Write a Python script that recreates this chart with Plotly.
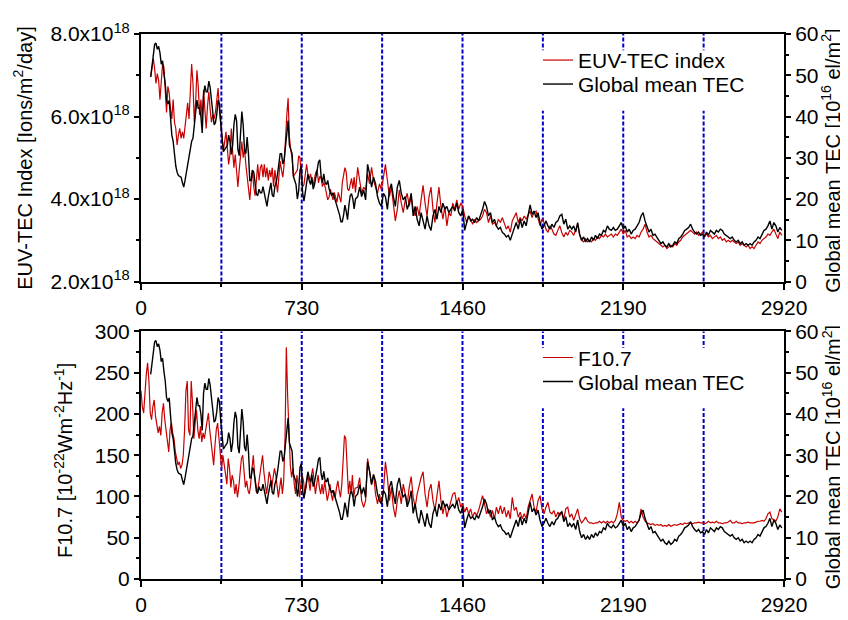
import plotly.graph_objects as go

# ---------------- data ----------------
# sampling days of the daily series (day number from start of record)
tec_days = (list(range(44, 980, 6)) + list(range(984, 1950, 9)) + list(range(1956, 2919, 9)))
f107_days = (list(range(0, 978, 6)) + list(range(984, 1950, 9)) + list(range(1956, 2919, 9)))

# Global mean TEC [1e16 el/m^2]
global_mean_tec = [
    49.6, 52, 55.5, 57.5, 57.8, 56.3, 57, 55.5, 52.7, 53.5,
    50.4, 48, 44, 43, 43.9, 40.2, 35.5, 34, 30.8, 28,
    26.5, 25.7, 25.5, 25.3, 24, 22.9, 24.5, 26.5, 28.4, 30,
    32.5, 34, 34.7, 37.8, 41.5, 44, 42, 42, 40, 36,
    45, 47.5, 46, 46, 48.6, 47, 44, 40, 38, 38.5,
    40.5, 44, 43, 38.5, 35, 31.5, 32, 32.5, 33, 35.5,
    34, 30.8, 33, 38, 40.5, 39, 32, 30.5, 37, 41.2,
    38, 32, 31, 35, 31, 24.5, 24.5, 27, 26.5, 23,
    21.2, 20.8, 22.4, 21.5, 21.5, 23, 21.5, 20, 18.2, 20.5,
    22.5, 23.9, 21, 20.5, 23, 24, 26, 28.4, 31, 31,
    28.5, 29.5, 32.5, 36.5, 39, 33, 32, 31, 25.5, 24.5,
    23.5, 20, 22, 27, 28, 21.5, 19.5, 21.6, 23.9, 26,
    24.5, 23.5, 25.3, 22.4, 23.5, 25, 27, 29, 29.5, 25.5,
    24, 26.1, 24, 23.5, 24.5, 22.5, 21.5, 20.8, 21.5, 20.5,
    19.2, 18, 17.2, 16.1, 14.5, 14.5, 16.1, 18.5, 17, 15,
    18.5, 20.8, 21.3, 20, 17.6, 20,
    # ---
    20.6, 22.9, 20.6, 22.2, 19.8, 28.4, 26.1, 22.9, 25.3, 23.7,
    20.6, 19, 18.2, 21.4, 20.6, 17.5, 22.2, 23.7, 20.6, 18.2,
    22.9, 24.5, 21.4, 19.8, 20.6, 17.5, 19, 21.4, 15.9, 18.2,
    15.1, 13.5, 16.7, 14.3, 12.7, 15.9, 13.5, 12.4, 15.9, 17.5,
    15.1, 18.2, 16.7, 19, 17.5, 18.2, 16.7, 17.5, 18.2, 17.1,
    19, 16.7, 15.9, 17.5, 12.4, 14.3, 15.9, 14.7, 15.1, 14.3,
    15.5, 14.7, 15.9, 17.5, 19.4, 18.2, 15.9, 16.7, 14.3, 15.1,
    13.5, 12.7, 13.1, 11.9, 11.5, 10.8, 11.2, 10, 11.5, 12.7,
    14.3, 12.7, 15.1, 13.1, 14.7, 13.5, 15.9, 18.6, 16.3, 17.1,
    15.5, 16.7, 14.3, 12.7, 13.5, 14.7, 13.5, 12.7, 13.9, 13.1,
    14.3, 14.7, 15.9, 16.3, 13.9, 15.1, 12.7, 13.5,
    # ---
    12.7, 13.5, 12, 14.3, 11.5, 10, 10.8, 9.6, 10.4, 9.6,
    10.8, 10, 11.2, 10.4, 11.5, 11.2, 12.4, 12, 13.5, 12.7,
    12.4, 13.1, 12.4, 12.7, 13.5, 14.3, 12.7, 13.5, 12, 12.7,
    11.5, 12.4, 12.7, 13.5, 14.3, 15.9, 16.7, 14.7, 13.1, 12,
    12.7, 11.2, 11.5, 10.8, 10, 9.2, 9.6, 8.8, 8.4, 9.2,
    8.4, 8.8, 9.6, 9.2, 10.4, 10.8, 11.5, 12.4, 12.7, 13.1,
    13.9, 12.7, 12, 11.5, 12, 11.2, 11.5, 10.8, 12, 11.2,
    12.4, 12, 11.5, 12.4, 12, 12.7, 12.4, 11.5, 11.2, 10.8,
    10.4, 10.8, 10, 9.6, 10, 9.2, 9.6, 8.8, 9.2, 8.8,
    9.2, 8.8, 9.6, 10, 10.8, 10.4, 11.5, 12.4, 12.7, 13.5,
    14.7, 12.7, 14.3, 13.5, 12, 13.1, 12.4,
]

# EUV-TEC index [1e18 ions/m^2/day]
euv_tec_index_e18 = [
    6.96, 7.20, 7.40, 7.16, 6.80, 7.04, 6.88, 6.41, 6.96, 7.27,
    7.20, 6.65, 6.10, 6.73, 6.57, 6.18, 5.94, 6.41, 5.86, 5.71,
    5.31, 5.55, 5.71, 5.47, 5.63, 5.47, 5.78, 6.10, 6.33, 5.94,
    6.65, 7.27, 6.80, 5.86, 6.33, 7.12, 6.73, 6.04, 6.41, 5.94,
    6.65, 6.18, 5.71, 6.25, 6.60, 6.18, 5.86, 6.04, 5.94, 6.10,
    6.41, 6.69, 6.18, 5.78, 5.55, 5.16, 5.39, 5.63, 5.24, 4.84,
    5.08, 5.71, 5.16, 4.76, 5.08, 4.61, 4.29, 4.70, 5.00, 5.39,
    5.00, 5.24, 4.84, 4.53, 4.24, 3.98, 4.39, 4.70, 4.30, 4.08,
    4.45, 4.84, 4.45, 4.76, 4.84, 4.53, 4.84, 4.53, 4.76, 4.45,
    4.70, 4.53, 4.76, 4.30, 4.70, 4.39, 4.16, 4.53, 4.92, 4.70,
    4.53, 4.84, 5.63, 6.02, 6.45, 5.50, 5.20, 5.00, 4.55, 4.60,
    4.65, 4.70, 5.05, 5.00, 4.50, 4.30, 4.35, 4.65, 4.84, 4.60,
    4.50, 4.61, 4.40, 4.35, 4.53, 4.65, 4.70, 4.39, 4.55, 4.50,
    4.30, 4.40, 4.30, 4.08, 3.98, 4.05, 4.24, 4.10, 3.98, 4.16,
    4.05, 3.92, 4.16, 4.05, 3.92, 4.39, 4.60, 4.76, 4.65, 4.25,
    4.20, 4.40, 4.50, 4.25, 4.53, 4.16,
    # ---
    4.77, 4.45, 4.14, 4.29, 4.22, 4.61, 4.37, 4.77, 4.45, 4.29,
    4.14, 4.37, 4.22, 4.53, 4.84, 4.45, 4.06, 4.29, 3.90, 3.47,
    3.75, 4.22, 3.90, 3.67, 3.98, 4.14, 3.82, 4.06, 3.75, 3.59,
    3.82, 3.59, 3.98, 4.33, 3.90, 3.59, 4.06, 4.29, 3.75, 3.43,
    3.90, 4.29, 3.82, 3.51, 3.82, 3.35, 3.67, 3.59, 3.90, 3.75,
    3.98, 3.75, 3.90, 3.82, 3.59, 3.43, 3.59, 3.51, 3.39, 3.51,
    3.43, 3.47, 3.51, 3.59, 3.75, 3.67, 3.43, 3.59, 3.39, 3.43,
    3.35, 3.51, 3.43, 3.55, 3.39, 3.27, 3.35, 3.19, 3.47, 3.59,
    3.67, 3.43, 3.55, 3.47, 3.59, 3.51, 3.63, 3.71, 3.55, 3.67,
    3.71, 3.51, 3.35, 3.51, 3.43, 3.27, 3.19, 3.35, 3.27, 3.15,
    3.12, 3.24, 3.35, 3.19, 3.08, 3.19, 3.12, 3.24,
    # ---
    3.20, 3.12, 3.27, 3.39, 3.12, 3.00, 2.96, 3.04, 2.96, 3.00,
    2.96, 3.04, 3.00, 3.08, 3.04, 3.12, 3.08, 3.15, 3.08, 3.12,
    3.15, 3.08, 3.15, 3.12, 3.20, 3.27, 3.15, 3.24, 3.08, 3.12,
    3.04, 3.08, 3.04, 3.12, 3.08, 3.20, 3.27, 3.39, 3.20, 3.08,
    3.12, 3.04, 3.00, 2.96, 2.92, 2.88, 2.84, 2.88, 2.80, 2.84,
    2.88, 2.84, 2.92, 2.88, 2.96, 3.00, 3.08, 3.12, 3.15, 3.20,
    3.24, 3.20, 3.15, 3.20, 3.12, 3.15, 3.20, 3.12, 3.15, 3.08,
    3.12, 3.04, 3.08, 3.12, 3.04, 3.08, 3.00, 3.04, 2.96, 3.00,
    2.96, 3.00, 2.96, 2.92, 2.96, 2.88, 2.92, 2.88, 2.84, 2.88,
    2.80, 2.84, 2.80, 2.88, 2.96, 2.92, 3.00, 3.04, 3.08, 3.15,
    3.12, 3.20, 3.27, 3.15, 3.04, 3.20, 3.12,
]

# F10.7 solar flux [1e-22 W m^-2 Hz^-1]
f107 = [
    228, 209, 201, 228, 248, 262, 240, 201, 193, 209,
    217, 197, 189, 177, 185, 174, 201, 213, 193, 181,
    166, 154, 181, 189, 177, 170, 154, 146, 138, 142,
    134, 138, 150, 181, 228, 240, 181, 174, 240, 213,
    170, 189, 205, 181, 170, 185, 166, 177, 170, 181,
    193, 201, 181, 166, 146, 138, 162, 181, 189, 170,
    150, 134, 150, 138, 126, 115, 146, 134, 111, 126,
    119, 103, 115, 99, 111, 134, 146, 150, 126, 111,
    119, 107, 103, 115, 134, 150, 126, 111, 103, 115,
    126, 142, 150, 130, 115, 103, 115, 130, 123, 111,
    123, 134, 126, 115, 99, 111, 123, 103, 119, 170,
    281, 221, 170, 138, 123, 134, 115, 103, 126, 111,
    99, 115, 126, 119, 103, 111, 126, 119, 107, 126,
    134, 119, 103, 115, 126, 111, 103, 115, 103, 119,
    107, 95, 103, 115, 103, 95, 107, 99, 111, 119,
    107, 99, 115, 142, 174, 170, 130, 103, 119, 103,
    126, 99, 110,
    # ---
    111, 123, 95, 87, 95, 146, 130, 115, 127, 103,
    91, 103, 91, 107, 142, 123, 95, 111, 87, 75,
    95, 107, 91, 115, 103, 91, 111, 124, 99, 87,
    103, 115, 123, 130, 103, 87, 107, 115, 95, 83,
    103, 119, 95, 79, 91, 75, 85, 95, 103, 105,
    91, 99, 87, 91, 81, 87, 79, 85, 75, 81,
    77, 83, 91, 101, 91, 79, 85, 75, 83, 73,
    87, 79, 89, 79, 87, 75, 83, 73, 99, 83,
    87, 75, 81, 73, 79, 73, 87, 95, 103, 87,
    81, 95, 101, 85, 79, 87, 93, 81, 79, 83,
    75, 81, 77, 81, 73, 85, 87, 75,
    # ---
    79, 71, 79, 85, 73, 68, 71, 75, 70, 68,
    68, 67, 68, 68, 70, 68, 70, 68, 70, 68,
    70, 68, 71, 79, 93, 75, 71, 70, 71, 68,
    70, 68, 70, 68, 71, 85, 75, 70, 68, 67,
    66, 67, 65, 66, 65, 66, 64, 65, 64, 66,
    64, 65, 66, 65, 66, 67, 66, 68, 67, 68,
    68, 67, 68, 68, 69, 68, 68, 67, 68, 70,
    68, 69, 68, 70, 68, 68, 67, 68, 68, 69,
    71, 68, 68, 70, 68, 68, 67, 68, 68, 69,
    68, 68, 68, 69, 70, 70, 71, 70, 73, 79,
    81, 73, 72, 70, 75, 85, 81,
]

year_marks = [365, 730, 1095, 1460, 1825, 2190, 2555]
x_ticks = [0, 730, 1460, 2190, 2920]
euv_ticks = [2e18, 4e18, 6e18, 8e18]
euv_ticktext = ["2.0x10<sup>18</sup>", "4.0x10<sup>18</sup>", "6.0x10<sup>18</sup>", "8.0x10<sup>18</sup>"]

n1 = min(len(tec_days), len(global_mean_tec), len(euv_tec_index_e18))
n2 = min(len(f107_days), len(f107))
euv_tec_index = [v * 1e18 for v in euv_tec_index_e18[:n1]]

# ---------------- figure ----------------
RED = "#C80000"
BLUE = "#0000CC"
FONT = "Liberation Sans, Arial, sans-serif"
FS = 21

fig = go.Figure()
fig.add_trace(go.Scatter(x=tec_days[:n1], y=euv_tec_index, name="EUV-TEC index", mode="lines",
                         line=dict(color=RED, width=1.2), xaxis="x", yaxis="y", legend="legend"))
fig.add_trace(go.Scatter(x=tec_days[:n1], y=global_mean_tec[:n1], name="Global mean TEC", mode="lines",
                         line=dict(color="black", width=1.4), xaxis="x", yaxis="y2", legend="legend2"))
fig.add_trace(go.Scatter(x=f107_days[:n2], y=f107[:n2], name="F10.7", mode="lines",
                         line=dict(color=RED, width=1.2), xaxis="x2", yaxis="y3", legend="legend3"))
fig.add_trace(go.Scatter(x=tec_days[:n1], y=global_mean_tec[:n1], name="Global mean TEC", mode="lines",
                         line=dict(color="black", width=1.4), xaxis="x2", yaxis="y4", legend="legend4"))

def xax(anchor):
    return dict(domain=[0, 1], anchor=anchor, range=[0, 2920], tickmode="array", tickvals=x_ticks,
                ticks="outside", ticklen=6, tickwidth=2, tickcolor="black",
                showline=True, linewidth=2, linecolor="black", mirror=True,
                showgrid=False, zeroline=False, tickfont=dict(size=FS, color="black"),
                minor=dict(tickmode="array", tickvals=year_marks, ticks="outside", ticklen=3,
                           tickwidth=2, tickcolor="black"))

def yax(domain, rng, anchor, **kw):
    d = dict(domain=domain, anchor=anchor, range=rng, ticks="outside", ticklen=5, tickwidth=2,
             tickcolor="black", showline=True, linewidth=2, linecolor="black",
             showgrid=False, zeroline=False, tickfont=dict(size=FS, color="black"))
    d.update(kw)
    return d

top_dom = [0.5458, 1.0]
bot_dom = [0.0, 0.4542]

shapes = []
for xr, yr in (("x", "y domain"), ("x2", "y3 domain")):
    for v in year_marks:
        shapes.append(dict(type="line", xref=xr, yref=yr, x0=v, x1=v, y0=0, y1=1, layer="below",
                           line=dict(color=BLUE, width=2, dash="4px,2px")))
    # white backing behind the legend (interrupts the dotted year lines)
    shapes.append(dict(type="rect", xref=xr, yref=yr, x0=1780, x1=2850, y0=0.69, y1=0.934,
                       layer="below", fillcolor="white", line=dict(width=0)))

legend_style = dict(xanchor="left", yanchor="top", bgcolor="rgba(0,0,0,0)", borderwidth=4,
                    bordercolor="rgba(0,0,0,0)", font=dict(size=FS, color="black", family=FONT))

fig.update_layout(
    width=848, height=620,
    margin=dict(l=133, r=72, t=25, b=27),
    paper_bgcolor="white", plot_bgcolor="white",
    font=dict(family=FONT, size=FS, color="black"),
    xaxis=xax("y"),
    yaxis=yax(top_dom, [2e18, 8e18], "x", tickmode="array", tickvals=euv_ticks, ticktext=euv_ticktext,
              minor=dict(tickmode="array", tickvals=[3e18, 5e18, 7e18], ticks="outside", ticklen=3,
                         tickwidth=2, tickcolor="black")),
    yaxis2=yax(top_dom, [0, 60], "x", overlaying="y", side="right", tickmode="linear", tick0=0, dtick=10,
               minor=dict(tickmode="linear", tick0=0, dtick=5, ticks="outside", ticklen=3, tickwidth=2,
                          tickcolor="black")),
    xaxis2=xax("y3"),
    yaxis3=yax(bot_dom, [0, 300], "x2", tickmode="linear", tick0=0, dtick=50,
               minor=dict(tickmode="linear", tick0=0, dtick=25, ticks="outside", ticklen=3, tickwidth=2,
                          tickcolor="black")),
    yaxis4=yax(bot_dom, [0, 60], "x2", overlaying="y3", side="right", tickmode="linear", tick0=0, dtick=10,
               minor=dict(tickmode="linear", tick0=0, dtick=5, ticks="outside", ticklen=3, tickwidth=2,
                          tickcolor="black")),
    legend=dict(x=0.6112, y=0.9965, **legend_style),
    legend2=dict(x=0.6112, y=0.9525, **legend_style),
    legend3=dict(x=0.6112, y=0.4507, **legend_style),
    legend4=dict(x=0.6112, y=0.4067, **legend_style),
    shapes=shapes,
    showlegend=True,
)

ann = dict(xref="paper", yref="paper", showarrow=False, textangle=-90, xanchor="center", yanchor="middle",
           font=dict(size=20, color="black", family=FONT))
fig.add_annotation(text="EUV-TEC Index [Ions/m<sup>2</sup>/day]", x=-0.1835, y=0.7711, **ann)
fig.add_annotation(text="Global mean TEC [10<sup>16</sup> el/m<sup>2</sup>]", x=1.0731, y=0.7676, **ann)
fig.add_annotation(text="F10.7 [10<sup>-22</sup>Wm<sup>-2</sup>Hz<sup>-1</sup>]", x=-0.1213, y=0.2165, **ann)
fig.add_annotation(text="Global mean TEC [10<sup>16</sup> el/m<sup>2</sup>]", x=1.0731, y=0.2236, **ann)

fig.write_html("out.html")
